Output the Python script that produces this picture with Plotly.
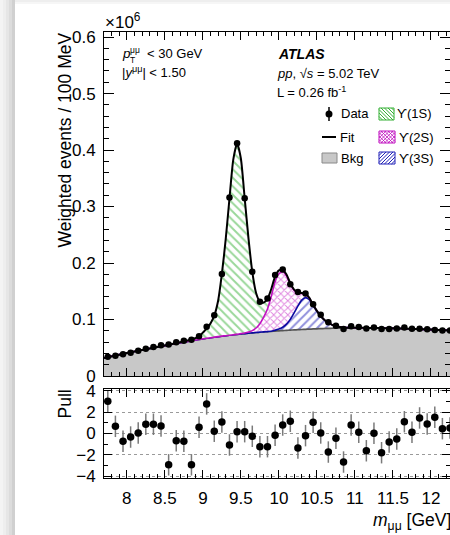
import plotly.graph_objects as go

# ---------------- data (values in units of 10^6) ----------------
bin_mass = [7.75, 7.85, 7.95, 8.05, 8.15, 8.25, 8.35, 8.45, 8.55, 8.65,
            8.75, 8.85, 8.95, 9.05, 9.15, 9.25, 9.35, 9.45, 9.55, 9.65,
            9.75, 9.85, 9.95, 10.05, 10.15, 10.25, 10.35, 10.45, 10.55, 10.65,
            10.75, 10.85, 10.95, 11.05, 11.15, 11.25, 11.35, 11.45, 11.55, 11.65,
            11.75, 11.85, 11.95, 12.05, 12.15, 12.25]

data_events = [0.0342, 0.0360, 0.0384, 0.0413, 0.0445, 0.0484, 0.0514, 0.0546, 0.0558, 0.0598,
               0.0623, 0.0640, 0.0705, 0.0870, 0.1074, 0.1805, 0.3160, 0.4122, 0.3148, 0.1846,
               0.1315, 0.1370, 0.1790, 0.1885, 0.1625, 0.1485, 0.1462, 0.1270, 0.1085, 0.0950,
               0.0888, 0.0830, 0.0880, 0.0868, 0.0842, 0.0860, 0.0830, 0.0832, 0.0842, 0.0860,
               0.0835, 0.0835, 0.0828, 0.0815, 0.0805, 0.0805]

pulls = [3.0, 0.67, -0.73, -0.33, 0.05, 0.86, 0.86, 0.70, -2.92, -0.67,
         -0.73, -2.92, 0.58, 2.76, 0.21, 1.07, -1.07, 0.17, 0.17, -0.26,
         -1.23, -1.23, -0.17, 0.79, 1.14, -1.36, -0.20, 1.05, 0.05, -1.73,
         -0.45, -2.66, 0.79, 0.11, -1.61, 0.02, -1.79, -0.79, -0.51, 1.10,
         0.11, 1.45, 0.89, 1.51, 0.45, 0.51]

# fit components (knots of the fitted curves)
fit_mass = [7.7, 7.9, 8.1, 8.3, 8.5, 8.7,
            8.8, 8.85, 8.9, 8.95, 9.0, 9.05, 9.1, 9.15, 9.2, 9.25, 9.3, 9.35, 9.4, 9.45,
            9.5, 9.55, 9.6, 9.65, 9.7, 9.75, 9.8, 9.85, 9.9, 9.95, 10.0, 10.05, 10.1, 10.15,
            10.2, 10.25, 10.3, 10.35, 10.4, 10.45, 10.5, 10.55, 10.6, 10.65, 10.7, 10.75,
            10.8, 10.85, 10.9,
            11.1, 11.3, 11.5, 11.7, 11.9, 12.1, 12.3]

fit_bkg = [0.0320, 0.0378, 0.0433, 0.0486, 0.0538, 0.0588,
           0.0612, 0.0624, 0.0636, 0.0647, 0.0658, 0.0668, 0.0678, 0.0688, 0.0697, 0.0706,
           0.0714, 0.0722, 0.0730, 0.0737, 0.0744, 0.0751, 0.0758, 0.0764, 0.0770, 0.0776,
           0.0781, 0.0786, 0.0791, 0.0796, 0.0800, 0.0804, 0.0808, 0.0812, 0.0816, 0.0820,
           0.0823, 0.0827, 0.0830, 0.0833, 0.0836, 0.0839, 0.0841, 0.0843, 0.0845, 0.0847,
           0.0849, 0.0850, 0.0851,
           0.0852, 0.0849, 0.0844, 0.0836, 0.0826, 0.0816, 0.0804]

fit_1S = [0.0, 0.0, 0.0, 0.0, 0.0002, 0.0008,
          0.0015, 0.0022, 0.0032, 0.0052, 0.0110, 0.0170, 0.0250, 0.0380, 0.0630, 0.1100,
          0.1700, 0.2420, 0.3100, 0.3375, 0.3100, 0.2385, 0.1660, 0.1040, 0.0620, 0.0390,
          0.0260, 0.0180, 0.0130, 0.0090, 0.0060, 0.0040, 0.0028, 0.0020, 0.0014, 0.0010,
          0.0007, 0.0005, 0.0003, 0.0002, 0.0001, 0.0, 0.0, 0.0, 0.0, 0.0,
          0.0, 0.0, 0.0,
          0.0, 0.0, 0.0, 0.0, 0.0, 0.0, 0.0]

fit_2S = [0.0, 0.0, 0.0, 0.0, 0.0, 0.0,
          0.0, 0.0, 0.0, 0.0, 0.0, 0.0, 0.0, 0.0, 0.0, 0.0,
          0.0, 0.0, 0.0, 0.0003, 0.0006, 0.0010, 0.0020, 0.0040, 0.0080, 0.0150,
          0.0260, 0.0400, 0.0620, 0.0860, 0.0980, 0.0980, 0.0850, 0.0620, 0.0400, 0.0230,
          0.0120, 0.0060, 0.0030, 0.0015, 0.0007, 0.0003, 0.0, 0.0, 0.0, 0.0,
          0.0, 0.0, 0.0,
          0.0, 0.0, 0.0, 0.0, 0.0, 0.0, 0.0]

fit_3S = [0.0, 0.0, 0.0, 0.0, 0.0, 0.0,
          0.0, 0.0, 0.0, 0.0, 0.0, 0.0, 0.0, 0.0, 0.0, 0.0,
          0.0, 0.0, 0.0, 0.0, 0.0, 0.0, 0.0, 0.0, 0.0, 0.0,
          0.0, 0.0, 0.0, 0.0015, 0.0030, 0.0060, 0.0110, 0.0190, 0.0300, 0.0420,
          0.0520, 0.0560, 0.0520, 0.0410, 0.0310, 0.0220, 0.0150, 0.0100, 0.0060, 0.0035,
          0.0020, 0.0010, 0.0005,
          0.0, 0.0, 0.0, 0.0, 0.0, 0.0, 0.0]

x_ticks = [8, 8.5, 9, 9.5, 10, 10.5, 11, 11.5, 12]
pull_ticks = [-4, -2, 0, 2, 4]

# stacked curves
curve_b3 = [b + c for b, c in zip(fit_bkg, fit_3S)]
curve_b32 = [a + c for a, c in zip(curve_b3, fit_2S)]
curve_tot = [a + c for a, c in zip(curve_b32, fit_1S)]

# ---------------- layout geometry ----------------
W, H = 450, 535
ML, MR, MT, MB = 104, 0, 32, 57
PW, PH = W - ML - MR, H - MT - MB


def X(px):
    return (px - ML) / PW


def Y(py):
    return (MT + PH - py) / PH


FONT = "Liberation Sans, Arial, Helvetica, sans-serif"
GREEN = "#34b034"
MAGENTA = "#c010c0"
BLUE = "#2020b8"

fig = go.Figure()

fig.add_trace(go.Scatter(x=fit_mass, y=fit_bkg, mode="lines",
                         line=dict(color="#555555", width=1.7, shape="spline", smoothing=0.6),
                         fill="tozeroy", fillcolor="#c8c8c8", hoverinfo="skip"))
fig.add_trace(go.Scatter(x=fit_mass, y=curve_b3, mode="lines",
                         line=dict(color="#0a0aa0", width=1.6, shape="spline", smoothing=0.6),
                         fill="tonexty", fillcolor="white",
                         fillpattern=dict(shape="/", fgcolor=BLUE, bgcolor="white",
                                          size=6, solidity=0.32),
                         hoverinfo="skip"))
fig.add_trace(go.Scatter(x=fit_mass, y=curve_b32, mode="lines",
                         line=dict(color=MAGENTA, width=1.6, shape="spline", smoothing=0.6),
                         fill="tonexty", fillcolor="white",
                         fillpattern=dict(shape="x", fgcolor=MAGENTA, bgcolor="white",
                                          size=5, solidity=0.35),
                         hoverinfo="skip"))
fig.add_trace(go.Scatter(x=fit_mass, y=curve_tot, mode="lines",
                         line=dict(color="black", width=2, shape="spline", smoothing=0.6),
                         fill="tonexty", fillcolor="white",
                         fillpattern=dict(shape="\\", fgcolor=GREEN, bgcolor="white",
                                          size=6, solidity=0.32),
                         hoverinfo="skip"))
fig.add_trace(go.Scatter(x=bin_mass, y=data_events, mode="markers",
                         marker=dict(color="black", size=6.5), cliponaxis=True))

fig.add_trace(go.Scatter(x=bin_mass, y=pulls, mode="markers", xaxis="x2", yaxis="y2",
                         marker=dict(color="black", size=7.5),
                         error_y=dict(type="constant", value=1, color="#7a7a7a",
                                      thickness=1.5, width=0)))

common_x = dict(range=[7.7, 12.25], tickvals=x_ticks, ticks="inside", ticklen=8,
                tickcolor="black", tickwidth=1, showline=True, linecolor="black",
                linewidth=1, mirror="ticks", showgrid=False, zeroline=False,
                minor=dict(dtick=0.1, tick0=7.7, ticks="inside", ticklen=4,
                           tickcolor="black", tickwidth=1, showgrid=False),
                tickfont=dict(family=FONT, size=17, color="black"))

fig.update_layout(
    width=W, height=H,
    margin=dict(l=ML, r=MR, t=MT, b=MB, pad=0),
    paper_bgcolor="white", plot_bgcolor="white",
    showlegend=False,
    font=dict(family=FONT, size=13, color="black"),
    xaxis=dict(domain=[0, 1], anchor="y", showticklabels=False, **common_x),
    yaxis=dict(domain=[(MT + PH - 376) / PH, 1], range=[0, 0.609], anchor="x",
               dtick=0.1, tick0=0, ticks="inside", ticklen=10, tickcolor="black",
               showline=True, linecolor="black", linewidth=1, mirror="ticks",
               showgrid=False, zeroline=False, ticklabelstandoff=4,
               minor=dict(dtick=0.02, ticks="inside", ticklen=5, tickcolor="black",
                          showgrid=False),
               tickfont=dict(family=FONT, size=17, color="black")),
    xaxis2=dict(domain=[0, 1], anchor="y2", showticklabels=True,
                ticklabelstandoff=5, **common_x),
    yaxis2=dict(domain=[0, (MT + PH - 389) / PH], range=[-4.15, 4.15], anchor="x2",
                tickvals=pull_ticks, ticks="inside", ticklen=8, tickcolor="black",
                showline=True, linecolor="black", linewidth=1, mirror="ticks",
                showgrid=True, gridcolor="#9a9a9a", griddash="dot", gridwidth=1,
                zeroline=False, ticklabelstandoff=4,
                minor=dict(dtick=1, ticks="inside", ticklen=4, tickcolor="black",
                           showgrid=False),
                tickfont=dict(family=FONT, size=17, color="black")),
)

ann = []


def text(px, py, s, size=13, xanchor="left", yanchor="middle", angle=0):
    ann.append(dict(x=X(px), y=Y(py), xref="paper", yref="paper", text=s,
                    showarrow=False, xanchor=xanchor, yanchor=yanchor, textangle=angle,
                    font=dict(family=FONT, size=size, color="black")))


text(103, 21, "×10<sup>6</sup>", size=17)
text(64, 31, "Weighted events / 100 MeV", size=17.5, xanchor="center", yanchor="top", angle=-90)
text(64, 388, "Pull", size=17.5, xanchor="center", yanchor="top", angle=-90)
text(371, 521, "<i>m</i><sub>μμ</sub> [GeV]", size=17.5)

text(119.5, 53, "<i>p</i>", size=13.5)
text(127.5, 50, "μμ", size=8.5)
text(128, 60, "T", size=8.5)
text(144.5, 53, "< 30 GeV", size=13)
text(120, 72, "|<i>y</i><sup>μμ</sup>| < 1.50", size=13)

text(276, 54, "<b><i>ATLAS</i></b>", size=14)
text(275, 73, "<i>pp</i>, √<i>s</i> = 5.02 TeV", size=13)
text(275, 92, "L = 0.26 fb<sup>-1</sup>", size=13)

text(338.5, 114, "Data", size=13)
text(337.5, 137, "Fit", size=13)
text(338.5, 158, "Bkg", size=13)
text(395, 114, "ϒ(1S)", size=13)
text(396.5, 137, "ϒ(2S)", size=13)
text(396.5, 158, "ϒ(3S)", size=13)

fig.update_layout(annotations=ann)

shapes = []


def rect(x0, y0, x1, y1, fill, line_color=None, lw=0):
    shapes.append(dict(type="rect", xref="paper", yref="paper",
                       x0=X(x0), x1=X(x1), y0=Y(y1), y1=Y(y0),
                       fillcolor=fill, line=dict(color=line_color or fill, width=lw),
                       layer="above"))


def hatch(x0, y0, x1, y1, step, kind, color, lw=1):
    w, h = x1 - x0, y1 - y0
    parts = []
    k = -h if kind == "\\" else 0.0
    kend = w if kind == "\\" else w + h
    while k <= kend:
        if kind == "\\":
            lo, hi = max(0.0, k), min(w, h + k)
            pts = [(lo, lo - k), (hi, hi - k)] if hi > lo else None
        else:
            lo, hi = max(0.0, k - h), min(w, k)
            pts = [(lo, k - lo), (hi, k - hi)] if hi > lo else None
        if pts:
            (ua, va), (ub, vb) = pts
            parts.append("M%.5f,%.5f L%.5f,%.5f" % (X(x0 + ua), Y(y0 + va),
                                                    X(x0 + ub), Y(y0 + vb)))
        k += step
    shapes.append(dict(type="path", xref="paper", yref="paper", path=" ".join(parts),
                       line=dict(color=color, width=lw), layer="above"))


# page shadow decoration
shadow_cols = ["#f4f4f4", "#eeeeee", "#e6e6e6", "#dcdcdc", "#d0d0d0"]
for i, c in enumerate(shadow_cols):
    rect(3 * i, 0, 3 * i + 3, H, c)
rect(15, 0, W, 2, "#eeeeee")
rect(15, 2, W, 4, "#f6f6f6")

# legend glyphs
shapes.append(dict(type="line", xref="paper", yref="paper", x0=X(329), x1=X(329),
                   y0=Y(121), y1=Y(107), line=dict(color="black", width=1.5), layer="above"))
shapes.append(dict(type="circle", xref="paper", yref="paper", x0=X(325.5), x1=X(332.5),
                   y0=Y(117.5), y1=Y(110.5), fillcolor="black",
                   line=dict(color="black", width=0), layer="above"))
shapes.append(dict(type="line", xref="paper", yref="paper", x0=X(322), x1=X(336),
                   y0=Y(137), y1=Y(137), line=dict(color="black", width=2), layer="above"))
rect(322, 153, 337, 163, "#c8c8c8", "#8a8a8a", 1)

rect(379, 108, 394, 120, "white", GREEN, 1)
hatch(379, 108, 394, 120, 3.5, "\\", GREEN, 1)
rect(379, 131, 395, 143, "white", MAGENTA, 1)
hatch(379, 131, 395, 143, 3.5, "\\", MAGENTA, 0.8)
hatch(379, 131, 395, 143, 3.5, "/", MAGENTA, 0.8)
rect(379, 152, 395, 164, "white", BLUE, 1)
hatch(379, 152, 395, 164, 3.5, "/", BLUE, 1)

fig.update_layout(shapes=shapes)

fig.write_html("out.html")
